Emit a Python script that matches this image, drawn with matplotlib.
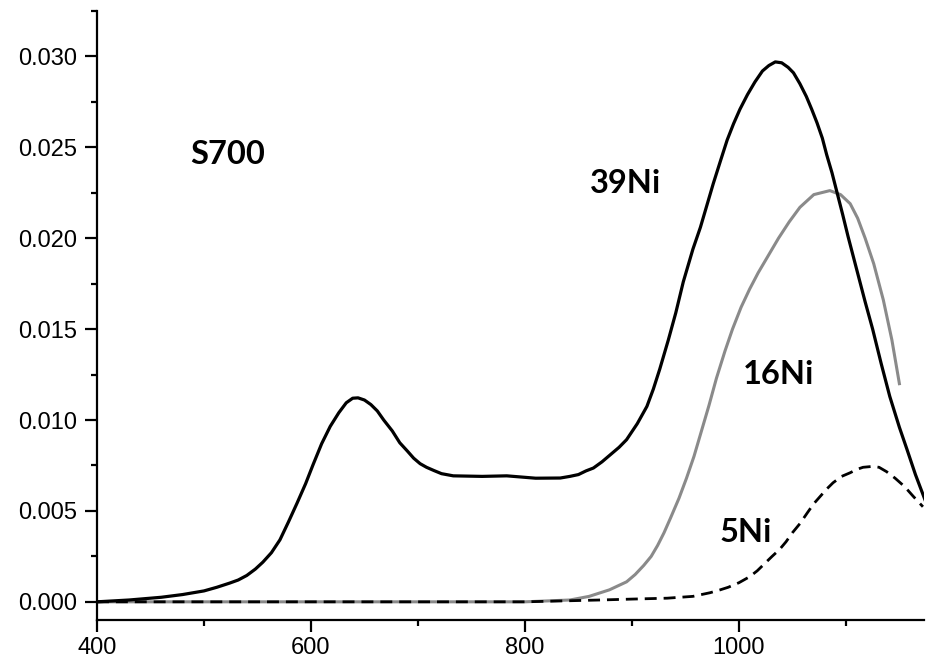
import matplotlib
matplotlib.use('Agg')
import matplotlib.pyplot as plt
from matplotlib.ticker import MultipleLocator, FormatStrFormatter

# 39Ni (solid black)
x_39 = [400, 430, 460, 480, 500, 512, 524, 532, 540, 548, 555, 563, 571, 579, 587,
        595, 602, 610, 618, 626, 633, 639, 644, 650, 656, 662, 668, 676, 683, 690,
        696, 702, 708, 715, 722, 733, 760, 783, 810, 833, 842, 850, 857, 864, 872,
        880, 888, 895, 905, 914, 920, 926, 934, 941, 948, 957, 964, 970, 976, 983,
        989, 995, 1001, 1008, 1015, 1022, 1028, 1034, 1040, 1046, 1051, 1057, 1063,
        1068, 1073, 1078, 1082, 1087, 1091, 1097, 1102, 1110, 1118, 1125, 1133, 1141,
        1150, 1157, 1165, 1174]
y_39 = [0.0, 0.0001, 0.00025, 0.0004, 0.0006, 0.0008, 0.00103, 0.0012, 0.00145,
        0.0018, 0.00218, 0.0027, 0.00341, 0.0044, 0.00543, 0.0065, 0.00755, 0.0087,
        0.00965, 0.0104, 0.01095, 0.0112, 0.01122, 0.0111, 0.01085, 0.0105, 0.0100,
        0.0094, 0.00875, 0.0083, 0.0079, 0.0076, 0.0074, 0.00722, 0.00705, 0.00693,
        0.0069, 0.00693, 0.0068, 0.00681, 0.0069, 0.0070, 0.0072, 0.00736, 0.0077,
        0.0081, 0.0085, 0.00892, 0.0098, 0.01075, 0.0117, 0.0128, 0.0144, 0.0159,
        0.0176, 0.0194, 0.0206, 0.0218, 0.0230, 0.0243, 0.0254, 0.0263, 0.0271,
        0.0279, 0.0286, 0.0292, 0.0295, 0.0297, 0.02965, 0.0294, 0.0291, 0.0285,
        0.0278, 0.0271, 0.02635, 0.0255, 0.0246, 0.0236, 0.02268, 0.0213, 0.0201,
        0.0183, 0.0165, 0.0150, 0.0131, 0.0113, 0.0096, 0.0084, 0.0070, 0.0056]

# 16Ni (grey)
x_16 = [400, 600, 800, 842, 860, 879, 895, 903, 911, 918, 924, 930, 936, 944, 951,
        958, 964, 972, 979, 987, 994, 1002, 1010, 1018, 1026, 1037, 1047, 1057, 1070,
        1085, 1095, 1104, 1111, 1118, 1126, 1135, 1143, 1150]
y_16 = [0.0, 0.0, 0.0, 0.0001, 0.0003, 0.00066, 0.0011, 0.0015, 0.0020, 0.0025,
        0.0031, 0.0038, 0.0046, 0.0057, 0.0068, 0.0080, 0.0092, 0.0108, 0.0123,
        0.0138, 0.0150, 0.0162, 0.0172, 0.0181, 0.0189, 0.0200, 0.0209, 0.0217,
        0.0224, 0.02262, 0.0224, 0.0219, 0.0211, 0.0200, 0.0186, 0.0166, 0.0144,
        0.0120]

# 5Ni (dashed)
x_5 = [400, 600, 800, 870, 900, 933, 957, 973, 982, 990, 1000, 1010, 1017, 1024,
       1031, 1038, 1044, 1050, 1057, 1064, 1070, 1076, 1082, 1088, 1096, 1104, 1110,
       1116, 1125, 1131, 1138, 1146, 1155, 1163, 1172]
y_5 = [0.0, 0.0, 0.0, 0.0001, 0.00015, 0.0002, 0.0003, 0.0005, 0.00065, 0.0008,
       0.00105, 0.00138, 0.0017, 0.0021, 0.0025, 0.00288, 0.0033, 0.0038, 0.0043,
       0.0049, 0.0054, 0.0058, 0.0062, 0.00655, 0.0069, 0.0071, 0.00728, 0.0074,
       0.00745, 0.0074, 0.00716, 0.0068, 0.00633, 0.0058, 0.00523]

labels = ['S700', '39Ni', '16Ni', '5Ni']
label_pos = [(522, 0.0246), (894, 0.0230), (1037, 0.0125), (1006, 0.0038)]

plt.rcParams['font.family'] = ['Liberation Sans', 'DejaVu Sans']

fig = plt.figure(figsize=(9.27, 6.61), dpi=100)
ax = fig.add_axes([97 / 927, 1 - 620 / 661, 827 / 927, 609 / 661])

ax.plot(x_16, y_16, color='#8a8a8a', lw=2.2, zorder=2)
ax.plot(x_5, y_5, color='black', lw=2.0, ls=(0, (4.3, 2.5)), zorder=3)
ax.plot(x_39, y_39, color='black', lw=2.3, zorder=4)

for lab, (lx, ly) in zip(labels, label_pos):
    ax.text(lx, ly, lab, family='Lato', fontweight='bold', fontsize=23.5,
            ha='center', va='center')

ax.set_xlim(400, 1173)
ax.set_ylim(-0.001, 0.0325)

ax.xaxis.set_major_locator(MultipleLocator(200))
ax.xaxis.set_minor_locator(MultipleLocator(100))
ax.yaxis.set_major_locator(MultipleLocator(0.005))
ax.yaxis.set_minor_locator(MultipleLocator(0.0025))
ax.yaxis.set_major_formatter(FormatStrFormatter('%.3f'))

for side in ['top', 'right']:
    ax.spines[side].set_visible(False)
for side in ['left', 'bottom']:
    ax.spines[side].set_linewidth(1.6)

ax.tick_params(which='major', direction='out', length=8.6, width=1.6, labelsize=17)
ax.tick_params(which='minor', direction='out', length=4.3, width=1.6)
ax.tick_params(axis='y', which='major', pad=6)
ax.tick_params(axis='x', which='major', pad=4)

fig.savefig('out.png', dpi=100)
